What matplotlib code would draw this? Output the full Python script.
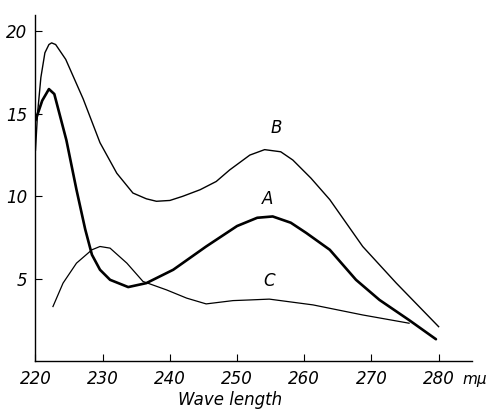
import matplotlib.pyplot as plt

# wavelength (m-mu) / value
a_x = [220.0, 221.0, 222.0, 222.8, 224.6, 226.1, 227.4, 228.4, 229.6, 231.1, 233.8,
       236.5, 240.5, 245.4, 250.0, 253.0, 255.3, 258.0, 260.3, 263.8, 267.7,
       271.2, 275.6, 279.6]
a_y = [14.6, 15.8, 16.5, 16.2, 13.4, 10.4, 8.0, 6.46, 5.55, 4.94, 4.5,
       4.74, 5.55, 6.96, 8.2, 8.7, 8.78, 8.4, 7.78, 6.76, 4.94,
       3.72, 2.5, 1.34]

b_x = [220.0, 220.3, 220.8, 221.4, 222.0, 222.4, 223.0, 224.5, 227.1, 229.6, 232.1,
       234.5, 236.5, 238.0, 240.0, 241.9, 244.5, 246.9, 248.9, 251.9, 254.1,
       256.5, 258.3, 261.0, 263.8, 268.7, 273.7, 280.0]
b_y = [12.8, 15.0, 17.2, 18.7, 19.2, 19.3, 19.2, 18.3, 15.9, 13.25, 11.4,
       10.2, 9.85, 9.7, 9.75, 10.0, 10.4, 10.9, 11.6, 12.5, 12.83,
       12.7, 12.2, 11.1, 9.8, 6.96, 4.74, 2.1]

c_x = [222.6, 224.1, 226.1, 228.4, 229.6, 231.1, 233.6, 236.0, 239.5, 242.5,
       245.4, 249.4, 251.9, 254.8, 261.3, 268.7, 275.6]
c_y = [3.32, 4.74, 5.95, 6.76, 6.96, 6.86, 5.95, 4.84, 4.33, 3.83,
       3.48, 3.68, 3.72, 3.77, 3.42, 2.81, 2.31]

x_ticks = [220, 230, 240, 250, 260, 270, 280]
x_labels = ['220', '230', '240', '250', '260', '270', '280']
y_ticks = [5, 10, 15, 20]
y_labels = ['5', '10', '15', '20']

plt.rcParams['font.family'] = ['DejaVu Sans']

fig = plt.figure(figsize=(4.95, 4.12), dpi=100)
ax = fig.add_axes([0.0717, 0.123, 0.8823, 0.841])

ax.plot(a_x, a_y, color='black', lw=1.9, solid_capstyle='round')
ax.plot(b_x, b_y, color='black', lw=1.0)
ax.plot(c_x, c_y, color='black', lw=0.9)

ax.text(255.9, 13.6, 'B', fontsize=12, style='italic', ha='center', va='bottom')
ax.text(254.5, 9.3, 'A', fontsize=12, style='italic', ha='center', va='bottom')
ax.text(254.8, 4.3, 'C', fontsize=12, style='italic', ha='center', va='bottom')

ax.set_xlim(220, 285)
ax.set_ylim(0, 21)
ax.set_xticks(x_ticks)
ax.set_xticklabels(x_labels, fontsize=12, style='italic')
ax.set_yticks(y_ticks)
ax.set_yticklabels(y_labels, fontsize=12, style='italic')
ax.tick_params(direction='in', length=5, width=0.8, pad=6)

for s in ['top', 'right']:
    ax.spines[s].set_visible(False)
ax.spines['left'].set_linewidth(1.0)
ax.spines['bottom'].set_linewidth(1.0)

ax.text(0.446, -0.085, 'Wave length', transform=ax.transAxes, fontsize=12,
        style='italic', ha='center', va='top')
fig.text(0.985, 0.08, 'mμ', fontsize=11, style='italic', ha='right', va='center')

fig.savefig('out.png', dpi=100)
